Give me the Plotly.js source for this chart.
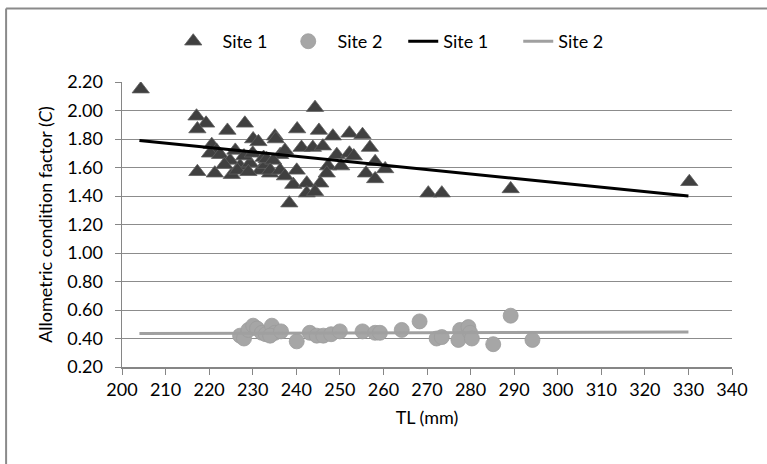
<!DOCTYPE html>
<html>
<head>
<meta charset="utf-8">
<script src="https://cdn.plot.ly/plotly-3.0.1.min.js"></script>
<style>html,body{margin:0;padding:0;background:#fff;}#chart{width:767px;height:464px;}</style>
</head>
<body>
<div id="chart"></div>
<script>
// Site 1 observations (TL mm, allometric condition factor C)
const site1TL = [204.3,217.1,219.3,217.3,224.2,228.2,235.1,230.1,231.3,220.6,221.7,220.2,222.5,217.3,221.3,225.2,224.8,227.1,229.4,231.7,234.0,226.0,228.0,230.0,232.5,223.5,226.5,229.0,233.0,
  244.3,240.2,245.2,248.4,252.2,255.2,235.3,256.9,241.2,243.8,246.1,249.3,252.2,253.2,258.1,260.4,256.0,258.1,247.3,250.3,247.0,240.1,239.3,242.4,245.5,242.4,244.3,238.4,236.3,237.4,233.2,234.7,234.0,236.3,237.4,
  270.3,273.4,289.2,330.2];
const site1C = [2.15,1.96,1.91,1.87,1.86,1.91,1.82,1.80,1.78,1.76,1.72,1.70,1.69,1.57,1.56,1.55,1.65,1.61,1.63,1.58,1.56,1.72,1.68,1.70,1.67,1.62,1.58,1.57,1.62,
  2.02,1.87,1.86,1.82,1.84,1.83,1.80,1.74,1.74,1.74,1.75,1.69,1.70,1.68,1.64,1.59,1.56,1.52,1.61,1.61,1.56,1.58,1.48,1.49,1.49,1.42,1.43,1.35,1.69,1.72,1.66,1.65,1.58,1.58,1.54,
  1.42,1.42,1.45,1.50];
// Site 2 observations
const site2TL = [227.1,228.0,229.0,230.1,231.0,232.1,233.0,234.4,235.1,234.0,236.5,240.1,243.1,244.7,246.2,248.0,250.0,255.2,258.1,259.2,264.2,268.3,272.2,273.4,277.6,277.2,279.5,279.9,280.3,285.2,289.2,294.2];
const site2C = [0.42,0.40,0.46,0.49,0.47,0.44,0.43,0.49,0.44,0.42,0.45,0.38,0.44,0.42,0.42,0.43,0.45,0.45,0.44,0.44,0.46,0.52,0.40,0.41,0.46,0.39,0.48,0.44,0.40,0.36,0.56,0.39];
// Linear trend lines (end points)
const trend1TL = [204, 330];
const trend1C = [1.79, 1.40];
const trend2TL = [204, 330];
const trend2C = [0.435, 0.445];
const xTicks = [200,210,220,230,240,250,260,270,280,290,300,310,320,330,340];
const yTicks = [0.20,0.40,0.60,0.80,1.00,1.20,1.40,1.60,1.80,2.00,2.20];

const FONT = 'Lato, "Liberation Sans", sans-serif';
const FS = 18;
const NB = '\u00a0\u00a0';
const data = [
  {x: site1TL, y: site1C, mode: 'markers', type: 'scatter', name: NB + 'Site 1',
   marker: {symbol: 'triangle-up', size: 15, color: '#404040', line: {color: '#5e5e5e', width: 0.8}}},
  {x: site2TL, y: site2C, mode: 'markers', type: 'scatter', name: NB + 'Site 2',
   marker: {symbol: 'circle', size: 15, color: '#a6a6a6', line: {color: '#9c9c9c', width: 0.8}}},
  {x: trend1TL, y: trend1C, mode: 'lines', type: 'scatter', name: 'Site 1',
   line: {color: '#000000', width: 3}},
  {x: trend2TL, y: trend2C, mode: 'lines', type: 'scatter', name: 'Site 2',
   line: {color: '#a0a0a0', width: 3}}
];
const layout = {
  width: 767, height: 464,
  margin: {l: 122, r: 35, t: 82, b: 97},
  paper_bgcolor: '#ffffff', plot_bgcolor: '#ffffff',
  font: {family: FONT, size: FS, color: '#000'},
  showlegend: true,
  legend: {orientation: 'h', x: 0.084, xanchor: 'left', y: 1.142, yanchor: 'middle',
           entrywidth: 70, entrywidthmode: 'pixels', font: {family: FONT, size: FS}, bgcolor: 'rgba(0,0,0,0)'},
  xaxis: {range: [200, 340], tickvals: xTicks, ticktext: xTicks.map(String), showgrid: false, zeroline: false,
          showline: true, linecolor: '#868686', linewidth: 1.5, ticks: 'outside', ticklen: 6, tickcolor: '#868686',
          tickfont: {family: FONT, size: FS},
          title: {text: 'TL (mm)', font: {family: FONT, size: FS}, standoff: 12}, automargin: false},
  yaxis: {range: [0.2, 2.2], tickvals: yTicks, ticktext: yTicks.map(v => v.toFixed(2)), showgrid: true, gridcolor: '#8c8c8c', gridwidth: 1,
          zeroline: false, showline: true, linecolor: '#868686', linewidth: 1.5, ticks: 'outside', ticklen: 6, tickcolor: '#868686',
          tickfont: {family: FONT, size: FS}, ticklabelstandoff: 8,
          title: {text: 'Allometric condition factor (<i>C</i>)', font: {family: FONT, size: FS}, standoff: 10}, automargin: false},
  shapes: [
    {type: 'line', xref: 'paper', yref: 'paper', x0: -0.190, x1: 1.06, y0: 1.258, y1: 1.258, line: {color: '#8a8a8a', width: 2}},
    {type: 'line', xref: 'paper', yref: 'paper', x0: -0.190, x1: -0.190, y0: 1.258, y1: -0.36, line: {color: '#8a8a8a', width: 2}}
  ]
};
Plotly.newPlot('chart', data, layout, {displayModeBar: false, staticPlot: true});
</script>
</body>
</html>
